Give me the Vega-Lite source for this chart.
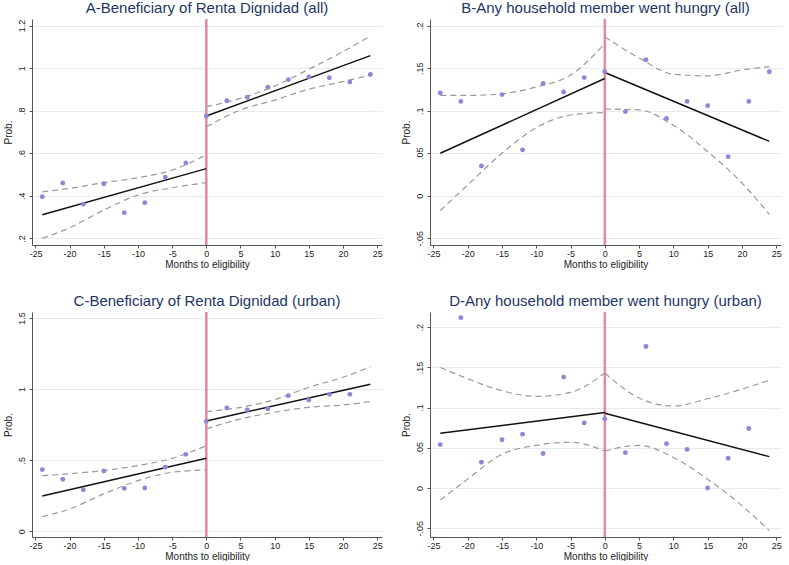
{
  "$schema": "https://vega.github.io/schema/vega-lite/v6.json",
  "background": "white",
  "padding": {"left": 3, "top": 0, "right": 0, "bottom": 0},
  "spacing": 24,
  "config": {
    "font": "Liberation Sans",
    "view": {"stroke": null},
    "concat": {"spacing": 18},
    "axis": {"labelFont": "Liberation Sans", "labelFontSize": 9, "labelColor": "#222", "titleFont": "Liberation Sans", "titleFontSize": 10, "titleFontWeight": "normal", "titleColor": "#222", "domainColor": "#555", "tickColor": "#555", "tickSize": 3, "gridColor": "#e1eef0", "gridWidth": 1, "labelFlush": false},
    "axisX": {"grid": false, "labelPadding": 1, "titlePadding": 1},
    "axisY": {"labelAngle": -90, "labelAlign": "center", "labelBaseline": "bottom", "labelPadding": 3, "titlePadding": 4},
    "title": {"font": "Liberation Sans", "fontSize": 15, "fontWeight": "normal", "color": "#1e3565", "offset": 2}
  },
  "datasets": {
    "A": [
      {"k":"pt","s":"L","x":-24,"y":0.396},{"k":"pt","s":"L","x":-21,"y":0.46},{"k":"pt","s":"L","x":-18,"y":0.361},{"k":"pt","s":"L","x":-15,"y":0.457},{"k":"pt","s":"L","x":-12,"y":0.321},{"k":"pt","s":"L","x":-9,"y":0.368},{"k":"pt","s":"L","x":-6,"y":0.488},{"k":"pt","s":"L","x":-3,"y":0.554},{"k":"pt","s":"R","x":0,"y":0.775},{"k":"pt","s":"R","x":3,"y":0.847},{"k":"pt","s":"R","x":6,"y":0.863},{"k":"pt","s":"R","x":9,"y":0.91},{"k":"pt","s":"R","x":12,"y":0.946},{"k":"pt","s":"R","x":15,"y":0.959},{"k":"pt","s":"R","x":18,"y":0.955},{"k":"pt","s":"R","x":21,"y":0.935},{"k":"pt","s":"R","x":24,"y":0.97},
      {"k":"fit","s":"L","x":-24,"y":0.311},{"k":"fit","s":"L","x":0,"y":0.528},{"k":"fit","s":"R","x":0,"y":0.775},{"k":"fit","s":"R","x":24,"y":1.059},
      {"k":"hi","s":"L","x":-24,"y":0.419},{"k":"hi","s":"L","x":-20,"y":0.435},{"k":"hi","s":"L","x":-15,"y":0.462},{"k":"hi","s":"L","x":-10,"y":0.485},{"k":"hi","s":"L","x":-5,"y":0.521},{"k":"hi","s":"L","x":0,"y":0.592},
      {"k":"lo","s":"L","x":-24,"y":0.2},{"k":"lo","s":"L","x":-20,"y":0.25},{"k":"lo","s":"L","x":-15,"y":0.333},{"k":"lo","s":"L","x":-10,"y":0.404},{"k":"lo","s":"L","x":-5,"y":0.438},{"k":"lo","s":"L","x":0,"y":0.462},
      {"k":"hi","s":"R","x":0,"y":0.819},{"k":"hi","s":"R","x":5,"y":0.858},{"k":"hi","s":"R","x":10,"y":0.916},{"k":"hi","s":"R","x":15,"y":0.995},{"k":"hi","s":"R","x":20,"y":1.078},{"k":"hi","s":"R","x":24,"y":1.151},
      {"k":"lo","s":"R","x":0,"y":0.725},{"k":"lo","s":"R","x":5,"y":0.803},{"k":"lo","s":"R","x":10,"y":0.85},{"k":"lo","s":"R","x":15,"y":0.901},{"k":"lo","s":"R","x":20,"y":0.937},{"k":"lo","s":"R","x":24,"y":0.968}
    ],
    "B": [
      {"k":"pt","s":"L","x":-24,"y":0.121},{"k":"pt","s":"L","x":-21,"y":0.111},{"k":"pt","s":"L","x":-18,"y":0.035},{"k":"pt","s":"L","x":-15,"y":0.119},{"k":"pt","s":"L","x":-12,"y":0.054},{"k":"pt","s":"L","x":-9,"y":0.132},{"k":"pt","s":"L","x":-6,"y":0.122},{"k":"pt","s":"L","x":-3,"y":0.139},{"k":"pt","s":"R","x":0,"y":0.146},{"k":"pt","s":"R","x":3,"y":0.099},{"k":"pt","s":"R","x":6,"y":0.16},{"k":"pt","s":"R","x":9,"y":0.091},{"k":"pt","s":"R","x":12,"y":0.111},{"k":"pt","s":"R","x":15,"y":0.106},{"k":"pt","s":"R","x":18,"y":0.046},{"k":"pt","s":"R","x":21,"y":0.111},{"k":"pt","s":"R","x":24,"y":0.146},
      {"k":"fit","s":"L","x":-24,"y":0.05},{"k":"fit","s":"L","x":0,"y":0.138},{"k":"fit","s":"R","x":0,"y":0.145},{"k":"fit","s":"R","x":24,"y":0.064},
      {"k":"hi","s":"L","x":-24,"y":0.118},{"k":"hi","s":"L","x":-20,"y":0.118},{"k":"hi","s":"L","x":-15,"y":0.12},{"k":"hi","s":"L","x":-10,"y":0.128},{"k":"hi","s":"L","x":-5,"y":0.142},{"k":"hi","s":"L","x":0,"y":0.179},
      {"k":"lo","s":"L","x":-24,"y":-0.0175},{"k":"lo","s":"L","x":-20,"y":0.0127},{"k":"lo","s":"L","x":-15,"y":0.05},{"k":"lo","s":"L","x":-10,"y":0.08},{"k":"lo","s":"L","x":-5,"y":0.095},{"k":"lo","s":"L","x":0,"y":0.098},
      {"k":"hi","s":"R","x":0,"y":0.187},{"k":"hi","s":"R","x":5,"y":0.162},{"k":"hi","s":"R","x":10,"y":0.143},{"k":"hi","s":"R","x":15,"y":0.141},{"k":"hi","s":"R","x":20,"y":0.148},{"k":"hi","s":"R","x":24,"y":0.152},
      {"k":"lo","s":"R","x":0,"y":0.102},{"k":"lo","s":"R","x":5,"y":0.101},{"k":"lo","s":"R","x":10,"y":0.083},{"k":"lo","s":"R","x":15,"y":0.052},{"k":"lo","s":"R","x":20,"y":0.015},{"k":"lo","s":"R","x":24,"y":-0.022}
    ],
    "C": [
      {"k":"pt","s":"L","x":-24,"y":0.434},{"k":"pt","s":"L","x":-21,"y":0.366},{"k":"pt","s":"L","x":-18,"y":0.293},{"k":"pt","s":"L","x":-15,"y":0.424},{"k":"pt","s":"L","x":-12,"y":0.302},{"k":"pt","s":"L","x":-9,"y":0.305},{"k":"pt","s":"L","x":-6,"y":0.45},{"k":"pt","s":"L","x":-3,"y":0.541},{"k":"pt","s":"R","x":0,"y":0.773},{"k":"pt","s":"R","x":3,"y":0.867},{"k":"pt","s":"R","x":6,"y":0.853},{"k":"pt","s":"R","x":9,"y":0.862},{"k":"pt","s":"R","x":12,"y":0.954},{"k":"pt","s":"R","x":15,"y":0.923},{"k":"pt","s":"R","x":18,"y":0.963},{"k":"pt","s":"R","x":21,"y":0.963},
      {"k":"fit","s":"L","x":-24,"y":0.249},{"k":"fit","s":"L","x":0,"y":0.513},{"k":"fit","s":"R","x":0,"y":0.776},{"k":"fit","s":"R","x":24,"y":1.034},
      {"k":"hi","s":"L","x":-24,"y":0.391},{"k":"hi","s":"L","x":-20,"y":0.405},{"k":"hi","s":"L","x":-15,"y":0.427},{"k":"hi","s":"L","x":-10,"y":0.462},{"k":"hi","s":"L","x":-5,"y":0.513},{"k":"hi","s":"L","x":0,"y":0.602},
      {"k":"lo","s":"L","x":-24,"y":0.103},{"k":"lo","s":"L","x":-20,"y":0.157},{"k":"lo","s":"L","x":-15,"y":0.263},{"k":"lo","s":"L","x":-10,"y":0.356},{"k":"lo","s":"L","x":-5,"y":0.415},{"k":"lo","s":"L","x":0,"y":0.431},
      {"k":"hi","s":"R","x":0,"y":0.841},{"k":"hi","s":"R","x":5,"y":0.872},{"k":"hi","s":"R","x":10,"y":0.926},{"k":"hi","s":"R","x":15,"y":1.013},{"k":"hi","s":"R","x":20,"y":1.083},{"k":"hi","s":"R","x":24,"y":1.158},
      {"k":"lo","s":"R","x":0,"y":0.72},{"k":"lo","s":"R","x":5,"y":0.79},{"k":"lo","s":"R","x":10,"y":0.837},{"k":"lo","s":"R","x":15,"y":0.872},{"k":"lo","s":"R","x":20,"y":0.888},{"k":"lo","s":"R","x":24,"y":0.912}
    ],
    "D": [
      {"k":"pt","s":"L","x":-24,"y":0.054},{"k":"pt","s":"L","x":-21,"y":0.212},{"k":"pt","s":"L","x":-18,"y":0.032},{"k":"pt","s":"L","x":-15,"y":0.06},{"k":"pt","s":"L","x":-12,"y":0.067},{"k":"pt","s":"L","x":-9,"y":0.043},{"k":"pt","s":"L","x":-6,"y":0.138},{"k":"pt","s":"L","x":-3,"y":0.081},{"k":"pt","s":"R","x":0,"y":0.086},{"k":"pt","s":"R","x":3,"y":0.044},{"k":"pt","s":"R","x":6,"y":0.176},{"k":"pt","s":"R","x":9,"y":0.055},{"k":"pt","s":"R","x":12,"y":0.048},{"k":"pt","s":"R","x":15,"y":0.0},{"k":"pt","s":"R","x":18,"y":0.037},{"k":"pt","s":"R","x":21,"y":0.074},
      {"k":"fit","s":"L","x":-24,"y":0.068},{"k":"fit","s":"L","x":0,"y":0.094},{"k":"fit","s":"R","x":0,"y":0.093},{"k":"fit","s":"R","x":24,"y":0.039},
      {"k":"hi","s":"L","x":-24,"y":0.15},{"k":"hi","s":"L","x":-20,"y":0.136},{"k":"hi","s":"L","x":-15,"y":0.121},{"k":"hi","s":"L","x":-10,"y":0.114},{"k":"hi","s":"L","x":-5,"y":0.119},{"k":"hi","s":"L","x":0,"y":0.143},
      {"k":"lo","s":"L","x":-24,"y":-0.015},{"k":"lo","s":"L","x":-20,"y":0.011},{"k":"lo","s":"L","x":-15,"y":0.042},{"k":"lo","s":"L","x":-10,"y":0.053},{"k":"lo","s":"L","x":-5,"y":0.057},{"k":"lo","s":"L","x":0,"y":0.046},
      {"k":"hi","s":"R","x":0,"y":0.143},{"k":"hi","s":"R","x":5,"y":0.112},{"k":"hi","s":"R","x":10,"y":0.102},{"k":"hi","s":"R","x":15,"y":0.111},{"k":"hi","s":"R","x":20,"y":0.123},{"k":"hi","s":"R","x":24,"y":0.134},
      {"k":"lo","s":"R","x":0,"y":0.046},{"k":"lo","s":"R","x":5,"y":0.053},{"k":"lo","s":"R","x":10,"y":0.038},{"k":"lo","s":"R","x":15,"y":0.011},{"k":"lo","s":"R","x":20,"y":-0.022},{"k":"lo","s":"R","x":24,"y":-0.053}
    ]
  },
  "vconcat": [
    {
      "spacing": 18,
      "hconcat": [
        {
          "title": "A-Beneficiary of Renta Dignidad (all)",
          "width": 350, "height": 226,
          "data": {"name": "A"},
          "encoding": {"x": {"field": "x", "type": "quantitative", "scale": {"domain": [-25.5, 25.7], "nice": false, "zero": false}, "axis": {"values": [-25,-20,-15,-10,-5,0,5,10,15,20,25], "labelExpr": "datum.value + ''", "labelOverlap": false, "labelSeparation": 0, "title": "Months to eligibility"}}},
          "layer": [
            {"data": {"values": [{"x": 0}]}, "mark": {"type": "rule", "color": "#e8889b", "strokeWidth": 2.5}},
            {"transform": [{"filter": "datum.k == 'hi' || datum.k == 'lo'"}], "mark": {"type": "line", "color": "#9a9a9a", "strokeWidth": 1.2, "strokeDash": [6, 4], "interpolate": "monotone"}, "encoding": {"y": {"field": "y", "type": "quantitative", "scale": {"domain": [0.169, 1.231], "nice": false, "zero": false}, "axis": {"values": [0.2, 0.4, 0.6, 0.8, 1, 1.2], "labelExpr": "replace(datum.value + '', '0.', '.')", "title": "Prob."}}, "detail": [{"field": "k"}, {"field": "s"}]}},
            {"transform": [{"filter": "datum.k == 'fit'"}], "mark": {"type": "line", "color": "#111", "strokeWidth": 1.5}, "encoding": {"y": {"field": "y", "type": "quantitative"}, "detail": {"field": "s"}}},
            {"transform": [{"filter": "datum.k == 'pt'"}], "mark": {"type": "circle", "color": "#8f86d8", "size": 24, "opacity": 1}, "encoding": {"y": {"field": "y", "type": "quantitative"}}}
          ]
        },
        {
          "title": "B-Any household member went hungry (all)",
          "width": 351, "height": 226,
          "data": {"name": "B"},
          "encoding": {"x": {"field": "x", "type": "quantitative", "scale": {"domain": [-25.5, 25.7], "nice": false, "zero": false}, "axis": {"values": [-25,-20,-15,-10,-5,0,5,10,15,20,25], "labelExpr": "datum.value + ''", "labelOverlap": false, "labelSeparation": 0, "title": "Months to eligibility"}}},
          "layer": [
            {"data": {"values": [{"x": 0}]}, "mark": {"type": "rule", "color": "#e8889b", "strokeWidth": 2.5}},
            {"transform": [{"filter": "datum.k == 'hi' || datum.k == 'lo'"}], "mark": {"type": "line", "color": "#9a9a9a", "strokeWidth": 1.2, "strokeDash": [6, 4], "interpolate": "monotone"}, "encoding": {"y": {"field": "y", "type": "quantitative", "scale": {"domain": [-0.058, 0.208], "nice": false, "zero": false}, "axis": {"values": [-0.05, 0, 0.05, 0.1, 0.15, 0.2], "labelExpr": "replace(datum.value + '', '0.', '.')", "title": "Prob."}}, "detail": [{"field": "k"}, {"field": "s"}]}},
            {"transform": [{"filter": "datum.k == 'fit'"}], "mark": {"type": "line", "color": "#111", "strokeWidth": 1.5}, "encoding": {"y": {"field": "y", "type": "quantitative"}, "detail": {"field": "s"}}},
            {"transform": [{"filter": "datum.k == 'pt'"}], "mark": {"type": "circle", "color": "#8f86d8", "size": 24, "opacity": 1}, "encoding": {"y": {"field": "y", "type": "quantitative"}}}
          ]
        }
      ]
    },
    {
      "spacing": 18,
      "hconcat": [
        {
          "title": "C-Beneficiary of Renta Dignidad (urban)",
          "width": 350, "height": 225,
          "data": {"name": "C"},
          "encoding": {"x": {"field": "x", "type": "quantitative", "scale": {"domain": [-25.5, 25.7], "nice": false, "zero": false}, "axis": {"values": [-25,-20,-15,-10,-5,0,5,10,15,20,25], "labelExpr": "datum.value + ''", "labelOverlap": false, "labelSeparation": 0, "title": "Months to eligibility"}}},
          "layer": [
            {"data": {"values": [{"x": 0}]}, "mark": {"type": "rule", "color": "#e8889b", "strokeWidth": 2.5}},
            {"transform": [{"filter": "datum.k == 'hi' || datum.k == 'lo'"}], "mark": {"type": "line", "color": "#9a9a9a", "strokeWidth": 1.2, "strokeDash": [6, 4], "interpolate": "monotone"}, "encoding": {"y": {"field": "y", "type": "quantitative", "scale": {"domain": [-0.04, 1.542], "nice": false, "zero": false}, "axis": {"values": [0, 0.5, 1, 1.5], "labelExpr": "replace(datum.value + '', '0.', '.')", "title": "Prob."}}, "detail": [{"field": "k"}, {"field": "s"}]}},
            {"transform": [{"filter": "datum.k == 'fit'"}], "mark": {"type": "line", "color": "#111", "strokeWidth": 1.5}, "encoding": {"y": {"field": "y", "type": "quantitative"}, "detail": {"field": "s"}}},
            {"transform": [{"filter": "datum.k == 'pt'"}], "mark": {"type": "circle", "color": "#8f86d8", "size": 24, "opacity": 1}, "encoding": {"y": {"field": "y", "type": "quantitative"}}}
          ]
        },
        {
          "title": "D-Any household member went hungry (urban)",
          "width": 351, "height": 225,
          "data": {"name": "D"},
          "encoding": {"x": {"field": "x", "type": "quantitative", "scale": {"domain": [-25.5, 25.7], "nice": false, "zero": false}, "axis": {"values": [-25,-20,-15,-10,-5,0,5,10,15,20,25], "labelExpr": "datum.value + ''", "labelOverlap": false, "labelSeparation": 0, "title": "Months to eligibility"}}},
          "layer": [
            {"data": {"values": [{"x": 0}]}, "mark": {"type": "rule", "color": "#e8889b", "strokeWidth": 2.5}},
            {"transform": [{"filter": "datum.k == 'hi' || datum.k == 'lo'"}], "mark": {"type": "line", "color": "#9a9a9a", "strokeWidth": 1.2, "strokeDash": [6, 4], "interpolate": "monotone"}, "encoding": {"y": {"field": "y", "type": "quantitative", "scale": {"domain": [-0.061, 0.219], "nice": false, "zero": false}, "axis": {"values": [-0.05, 0, 0.05, 0.1, 0.15, 0.2], "labelExpr": "replace(datum.value + '', '0.', '.')", "title": "Prob."}}, "detail": [{"field": "k"}, {"field": "s"}]}},
            {"transform": [{"filter": "datum.k == 'fit'"}], "mark": {"type": "line", "color": "#111", "strokeWidth": 1.5}, "encoding": {"y": {"field": "y", "type": "quantitative"}, "detail": {"field": "s"}}},
            {"transform": [{"filter": "datum.k == 'pt'"}], "mark": {"type": "circle", "color": "#8f86d8", "size": 24, "opacity": 1}, "encoding": {"y": {"field": "y", "type": "quantitative"}}}
          ]
        }
      ]
    }
  ]
}
